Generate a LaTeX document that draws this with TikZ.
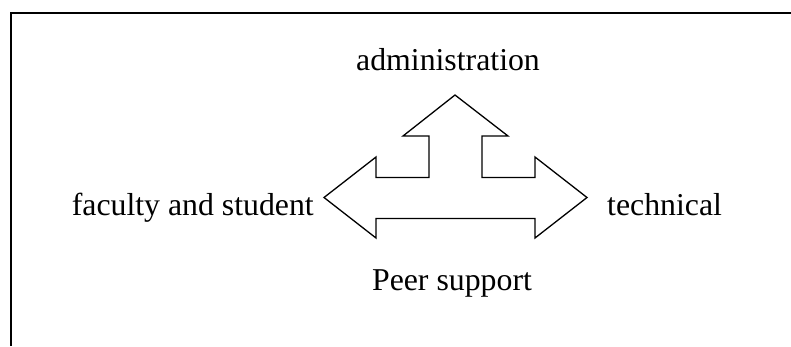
\documentclass[tikz,border=0pt]{standalone}
\usepackage{fontspec}
\setmainfont{Liberation Serif}
\begin{document}
\begin{tikzpicture}[x=1pt,y=-1pt,
  label text/.style={inner sep=0pt,font=\fontsize{31.8}{38}\selectfont},
  frame line/.style={line width=1.8pt,black},
  arrow outline/.style={line width=1.3pt,black,line join=miter}]
  \useasboundingbox (0,0) rectangle (791,346);
  % outer frame (top and left sides)
  \draw[frame line] (11,346) -- (11,13) -- (791,13);
  % three-way block arrow
  \draw[arrow outline]
    (324,197.5) -- (376,157) -- (376,177.5) -- (429,177.5) -- (429,136)
    -- (403,136) -- (455,95) -- (508,136) -- (482,136) -- (482,177.5)
    -- (535,177.5) -- (535,157) -- (587,197.5) -- (535,238) -- (535,218.5)
    -- (376,218.5) -- (376,238) -- cycle;
  % labels
  \node[label text,anchor=base] (admin) at (448,70) {administration};
  \node[label text,anchor=base east] (faculty) at (314,215.7) {faculty and student};
  \node[label text,anchor=base west] (tech) at (607,215.7) {technical};
  \node[label text,anchor=base] (peer) at (452,290.7) {Peer support};
\end{tikzpicture}
\end{document}
